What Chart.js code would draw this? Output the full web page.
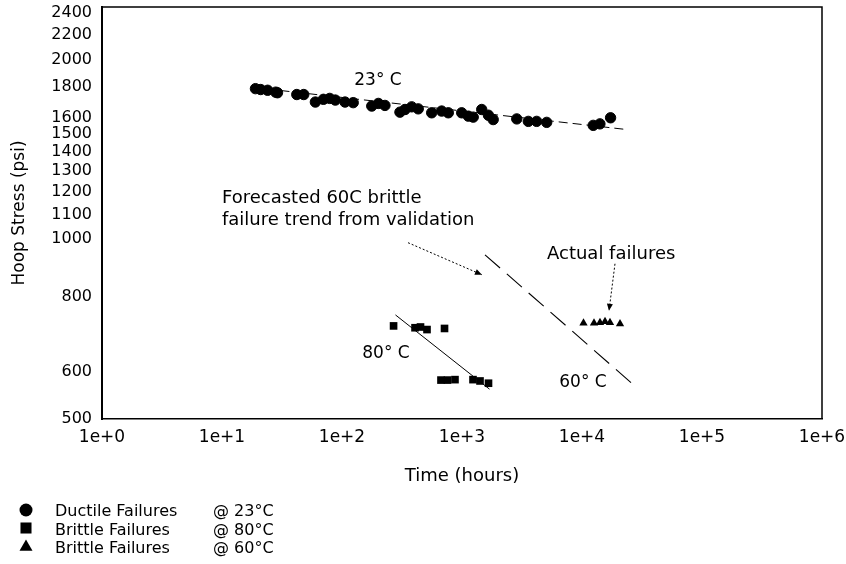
<!DOCTYPE html>
<html>
<head>
<meta charset="utf-8">
<script src="https://cdn.jsdelivr.net/npm/chart.js@4/dist/chart.umd.min.js"></script>
<style>
  html, body { margin: 0; padding: 0; background: #fff; }
  canvas { display: block; }
</style>
</head>
<body>
<canvas id="chart" width="846" height="564"></canvas>
<script>
// Time to failure (hours) vs hoop stress (psi)
const ductile23Time = [19, 21, 24, 28, 29, 42, 48, 60, 70, 79, 88, 106, 124, 177, 201, 228, 304, 335, 381, 432,
    559, 677, 769, 994, 1130, 1240, 1460, 1660, 1820, 2860, 3570, 4190, 5080, 12400, 14100, 17300];
const ductile23Stress = [1788, 1782, 1777, 1764, 1760, 1748, 1748, 1698, 1716, 1722, 1711, 1698, 1694, 1672, 1689, 1676, 1633, 1650, 1667, 1654,
    1629, 1640, 1629, 1629, 1608, 1602, 1650, 1614, 1587, 1591, 1576, 1576, 1570, 1552, 1561, 1598];

const brittle80Time = [269, 406, 451, 511, 715, 668, 757, 874, 1235, 1413, 1663];
const brittle80Stress = [716, 711, 713, 706, 709, 581, 581, 582, 582, 579, 574];

const brittle60Time = [10290, 12590, 14125, 15550, 17110, 20740];
const brittle60Stress = [724, 724, 725, 728, 725, 722];

// trend lines (end points)
const trend23Time = [18, 23700];
const trend23Stress = [1797, 1527];
const trend80Time = [279, 1695];
const trend80Stress = [747, 561];
const forecast60Time = [1555, 28700];
const forecast60Stress = [942, 564];

const xTicks = [1, 10, 100, 1000, 10000, 100000, 1000000];
const yTicks = [500, 600, 800, 1000, 1100, 1200, 1300, 1400, 1500, 1600, 1800, 2000, 2200, 2400];

const legendNames = ['Ductile Failures', 'Brittle Failures', 'Brittle Failures'];
const legendTemps = ['@ 23°C', '@ 80°C', '@ 60°C'];
const legendStyles = ['circle', 'rect', 'triangle'];

// text notes, anchored in data coordinates
const notes = [
    { text: '23° C', x: 199.5, y: 1810, align: 'center', size: 17 },
    { text: '80° C', x: 232.6, y: 632, align: 'center', size: 17 },
    { text: '60° C', x: 10190, y: 565, align: 'center', size: 17 },
    { text: 'Forecasted 60C brittle', x: 10, y: 1152, align: 'left', size: 18 },
    { text: 'failure trend from validation', x: 10, y: 1058, align: 'left', size: 18 },
    { text: 'Actual failures', x: 5108, y: 928, align: 'left', size: 18 },
];
const arrows = [
    { from: [355, 987], to: [1468, 872] },
    { from: [18836, 910], to: [16788, 759] },
];

const FONT = '"DejaVu Sans", sans-serif';
const toPoints = (xs, ys) => xs.map((x, i) => ({ x, y: ys[i] }));

function drawArrow(ctx, x1, y1, x2, y2) {
    ctx.setLineDash([2, 2]);
    ctx.lineWidth = 1;
    ctx.beginPath();
    ctx.moveTo(x1, y1);
    ctx.lineTo(x2, y2);
    ctx.stroke();
    ctx.setLineDash([]);
    const ang = Math.atan2(y2 - y1, x2 - x1);
    const L = 7, W = 3;
    ctx.beginPath();
    ctx.moveTo(x2, y2);
    ctx.lineTo(x2 - L * Math.cos(ang) + W * Math.sin(ang), y2 - L * Math.sin(ang) - W * Math.cos(ang));
    ctx.lineTo(x2 - L * Math.cos(ang) - W * Math.sin(ang), y2 - L * Math.sin(ang) + W * Math.cos(ang));
    ctx.closePath();
    ctx.fill();
}

const overlay = {
    id: 'overlay',
    afterDraw(chart) {
        const { ctx, chartArea: a, scales: { x, y } } = chart;
        ctx.save();
        ctx.strokeStyle = '#000';
        ctx.fillStyle = '#000';

        // top and right side of the plot frame
        ctx.lineWidth = 1.5;
        ctx.beginPath();
        ctx.moveTo(a.left, a.top);
        ctx.lineTo(a.right, a.top);
        ctx.lineTo(a.right, a.bottom);
        ctx.stroke();

        ctx.textBaseline = 'alphabetic';
        notes.forEach(n => {
            ctx.font = `${n.size}px ${FONT}`;
            ctx.textAlign = n.align;
            ctx.fillText(n.text, x.getPixelForValue(n.x), y.getPixelForValue(n.y));
        });

        arrows.forEach(ar => drawArrow(ctx,
            x.getPixelForValue(ar.from[0]), y.getPixelForValue(ar.from[1]),
            x.getPixelForValue(ar.to[0]), y.getPixelForValue(ar.to[1])));

        // legend below the chart
        const rowY = [510, 528, 547];
        const radius = [6.5, 7.8, 7.5];
        ctx.font = `16px ${FONT}`;
        ctx.textAlign = 'left';
        legendNames.forEach((name, i) => {
            Chart.helpers.drawPoint(ctx, { pointStyle: legendStyles[i], radius: radius[i], rotation: 0, borderWidth: 0 }, 26, rowY[i]);
            const base = [516, 534.5, 553][i];
            ctx.fillText(name, 55, base);
            ctx.fillText(legendTemps[i], 213, base);
        });
        ctx.restore();
    }
};

const tickFont = { family: FONT, size: 17 };

new Chart(document.getElementById('chart'), {
    type: 'scatter',
    data: {
        datasets: [
            { label: 'Ductile 23C', data: toPoints(ductile23Time, ductile23Stress), pointStyle: 'circle', pointRadius: 5.2,
              backgroundColor: '#000', borderColor: '#000', borderWidth: 1 },
            { label: 'Brittle 80C', data: toPoints(brittle80Time, brittle80Stress), pointStyle: 'rect', pointRadius: 5.4,
              backgroundColor: '#000', borderColor: '#000', borderWidth: 0 },
            { label: 'Brittle 60C', data: toPoints(brittle60Time, brittle60Stress), pointStyle: 'triangle', pointRadius: 4.8,
              backgroundColor: '#000', borderColor: '#000', borderWidth: 0 },
            { label: 'trend 23C', data: toPoints(trend23Time, trend23Stress), showLine: true, pointRadius: 0,
              borderColor: '#000', borderWidth: 1, borderDash: [9, 5] },
            { label: 'trend 80C', data: toPoints(trend80Time, trend80Stress), showLine: true, pointRadius: 0,
              borderColor: '#000', borderWidth: 1 },
            { label: 'forecast 60C', data: toPoints(forecast60Time, forecast60Stress), showLine: true, pointRadius: 0,
              borderColor: '#000', borderWidth: 1.1, borderDash: [20, 9] },
        ],
    },
    options: {
        responsive: false,
        animation: false,
        devicePixelRatio: 1,
        layout: { padding: { left: 0, right: 24, top: 7, bottom: 75 } },
        plugins: { legend: { display: false }, tooltip: { enabled: false } },
        scales: {
            x: {
                type: 'logarithmic', min: 1, max: 1000000,
                afterBuildTicks: s => { s.ticks = xTicks.map(v => ({ value: v })); },
                afterFit: s => { s.height = 70; s.paddingLeft = 0; s.paddingRight = 0; },
                ticks: { autoSkip: false, maxRotation: 0, padding: 8, color: '#000', font: tickFont,
                         callback: v => '1e+' + Math.round(Math.log10(v)) },
                grid: { display: false, drawTicks: false },
                border: { display: true, color: '#000', width: 1.5 },
                title: { display: true, text: 'Time (hours)', color: '#000', font: { family: FONT, size: 18 },
                         padding: { top: 0, bottom: 2 } },
            },
            y: {
                type: 'logarithmic', min: 500, max: 2450,
                afterBuildTicks: s => { s.ticks = yTicks.map(v => ({ value: v })); },
                afterFit: s => { s.width = 102; s.paddingTop = 0; s.paddingBottom = 0; },
                ticks: { autoSkip: false, padding: 10, color: '#000', font: { family: FONT, size: 16, lineHeight: 1 },
                         callback: v => String(v) },
                grid: { display: false, drawTicks: false },
                border: { display: true, color: '#000', width: 2 },
                title: { display: true, text: 'Hoop Stress (psi)', color: '#000', font: { family: FONT, size: 17 },
                         padding: { top: 9, bottom: 0 } },
            },
        },
    },
    plugins: [overlay],
});
</script>
</body>
</html>
